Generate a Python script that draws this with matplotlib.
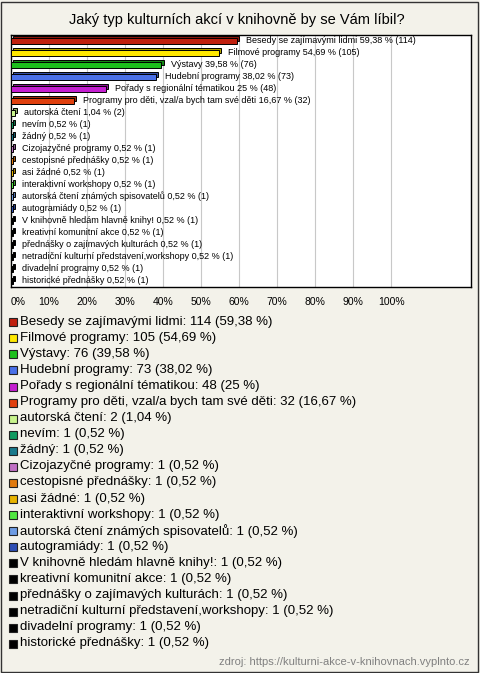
import matplotlib
matplotlib.use('Agg')
import matplotlib.pyplot as plt
from matplotlib.patches import Rectangle

plt.rcParams['font.family'] = ['Liberation Sans', 'DejaVu Sans']

# ------------------------------------------------------------------
#  DATA
# ------------------------------------------------------------------
TITLE = 'Jaký typ kulturních akcí v knihovně by se Vám líbil?'
SOURCE = 'zdroj: https://kulturni-akce-v-knihovnach.vyplnto.cz'

categories = [
    'Besedy se zajímavými lidmi',
    'Filmové programy',
    'Výstavy',
    'Hudební programy',
    'Pořady s regionální tématikou',
    'Programy pro děti, vzal/a bych tam své děti',
    'autorská čtení',
    'nevím',
    'žádný',
    'Cizojazyčné programy',
    'cestopisné přednášky',
    'asi žádné',
    'interaktivní workshopy',
    'autorská čtení známých spisovatelů',
    'autogramiády',
    'V knihovně hledám hlavně knihy!',
    'kreativní komunitní akce',
    'přednášky o zajímavých kulturách',
    'netradiční kulturní představení,workshopy',
    'divadelní programy',
    'historické přednášky',
]
counts = [114, 105, 76, 73, 48, 32, 2, 1, 1, 1, 1, 1, 1, 1, 1, 1, 1, 1, 1, 1, 1]
percents = [59.38, 54.69, 39.58, 38.02, 25, 16.67, 1.04, 0.52, 0.52, 0.52, 0.52,
            0.52, 0.52, 0.52, 0.52, 0.52, 0.52, 0.52, 0.52, 0.52, 0.52]
colors = ['#c0200e', '#ffe800', '#1cbf1c', '#4a70e8', '#c41ed0', '#e0400e',
          '#c8f48c', '#109a60', '#1a7a8c', '#c070c4', '#e07a0e', '#e8b400',
          '#50e640', '#6e9ce4', '#2e4eb4', '#000000', '#000000', '#000000',
          '#000000', '#000000', '#000000']
xticks = list(range(0, 101, 10))

W, H = 480, 673
BG = '#f3f2ea'


def fmt(p):
    return f'{p:g}'.replace('.', ',')


def darken(c, f=0.7):
    r, g, b = matplotlib.colors.to_rgb(c)
    return (r * f, g * f, b * f)


fig = plt.figure(figsize=(W / 100, H / 100), dpi=100, facecolor=BG)

# outer frame
fig.patches.append(Rectangle((1 / W, 1 / H), 477 / W, 670 / H, transform=fig.transFigure,
                             fill=False, edgecolor='#333333', linewidth=1))

fig.text(237 / W, 1 - 20 / H, TITLE, ha='center', va='center', fontsize=10.5)

# ------------------------------------------------------------------
#  BAR CHART
# ------------------------------------------------------------------
ax = fig.add_axes([11 / W, 1 - 287 / H, 460 / W, 252 / H])
ax.set_facecolor('white')
ax.set_xlim(0, 121)
ax.set_ylim(len(categories) - 0.5, -0.5)
for x in xticks[1:]:
    ax.axvline(x, color='#c8c8c8', linewidth=0.8, zorder=0)

ypos = list(range(len(categories)))
bh = 0.42
dx, dy = 0.55, 0.17
# back face for the 3D look
ax.barh([y - dy for y in ypos], percents, left=dx, height=bh,
        color=[darken(c) for c in colors], edgecolor='black', linewidth=0.7, zorder=2)
ax.barh(ypos, percents, height=bh, color=colors, edgecolor='black',
        linewidth=0.7, zorder=3)

for y, name, p, n in zip(ypos, categories, percents, counts):
    ax.text(p + 2.4, y - 0.05, f'{name} {fmt(p)} % ({n})', ha='left', va='center',
            fontsize=6.5, zorder=4)

ax.set_yticks([])
ax.set_xticks(xticks)
ax.set_xticklabels([f'{x}%' for x in xticks], fontsize=7.5)
ax.get_xticklabels()[0].set_ha('left')
ax.tick_params(axis='x', length=0, pad=7)
for s in ax.spines.values():
    s.set_linewidth(1)
    s.set_color('black')

# ------------------------------------------------------------------
#  LEGEND
# ------------------------------------------------------------------
for i, (name, p, n, c) in enumerate(zip(categories, percents, counts, colors)):
    yc = 321.7 + 16.08 * i
    fig.patches.append(Rectangle((8.5 / W, 1 - (yc + 4.5) / H), 8 / W, 8 / H,
                                 transform=fig.transFigure, facecolor=c,
                                 edgecolor='#222222', linewidth=0.8))
    fig.text(20 / W, 1 - yc / H, f'{name}: {n} ({fmt(p)} %)', ha='left', va='center',
             fontsize=9.5)

fig.text(470 / W, 1 - 662 / H, SOURCE, ha='right', va='center', fontsize=8, color='#808080')

fig.savefig('out.png', dpi=100, facecolor=BG)
